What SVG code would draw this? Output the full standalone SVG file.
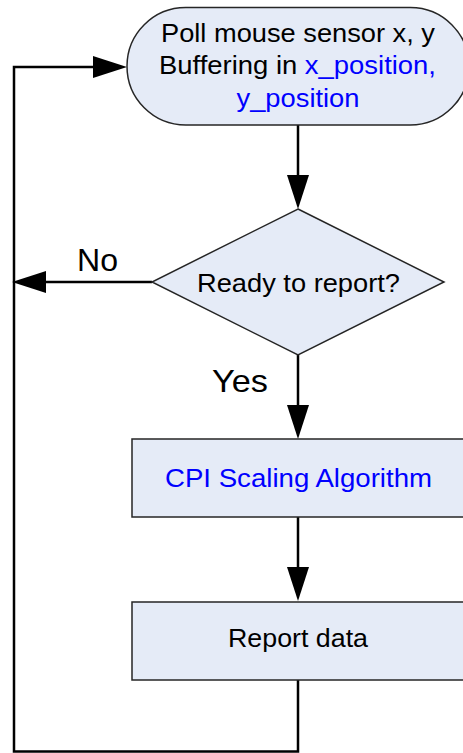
<svg xmlns="http://www.w3.org/2000/svg" width="463" height="753" viewBox="0 0 463 753">
  <defs>
    <marker id="arrow" markerUnits="userSpaceOnUse" markerWidth="34" markerHeight="22" refX="24" refY="11" orient="auto">
      <path d="M0,0 L34,11 L0,22 Z" fill="#000"/>
    </marker>
    <style>
      .shape { fill: #e5ebf7; stroke: #262626; stroke-width: 1.5; }
      .label { font-family: "Liberation Sans", Arial, sans-serif; font-size: 25.5px; fill: #000; text-anchor: middle; }
      .big { font-size: 32px; }
      .blue { fill: #0000ff; }
      .wire { fill: none; stroke: #000; stroke-width: 2.5; stroke-linejoin: miter; }
    </style>
  </defs>

  <rect width="463" height="753" fill="#fff"/>

  <!-- flow lines -->
  <g id="connectors">
    <path class="wire" d="M298,680 V751.5 H14 V67 H117" marker-end="url(#arrow)"/>
    <path class="wire" d="M298,125 V199" marker-end="url(#arrow)"/>
    <path class="wire" d="M152,282 H22" marker-end="url(#arrow)"/>
    <path class="wire" d="M298,355 V429" marker-end="url(#arrow)"/>
    <path class="wire" d="M298,517 V591" marker-end="url(#arrow)"/>
    <text class="label big" x="97.5" y="271" textLength="41" lengthAdjust="spacingAndGlyphs">No</text>
    <text class="label big" x="240" y="392" textLength="56" lengthAdjust="spacingAndGlyphs">Yes</text>
  </g>

  <!-- start: read sensor -->
  <g id="poll">
    <rect class="shape" x="127" y="7.5" width="342" height="117.5" rx="58.75" ry="58.75"/>
    <text class="label" x="298" y="41.5" textLength="274" lengthAdjust="spacingAndGlyphs">Poll mouse sensor x, y</text>
    <text class="label" x="297.5" y="74" textLength="277" lengthAdjust="spacingAndGlyphs">Buffering in <tspan class="blue">x_position,</tspan></text>
    <text class="label blue" x="298" y="106.5" textLength="123" lengthAdjust="spacingAndGlyphs">y_position</text>
  </g>

  <!-- decision -->
  <g id="ready">
    <polygon class="shape" points="298,209 444,282 298,355 152,282"/>
    <text class="label" x="298.5" y="292" textLength="203" lengthAdjust="spacingAndGlyphs">Ready to report?</text>
  </g>

  <!-- scaling step -->
  <g id="cpi">
    <rect class="shape" x="132" y="439" width="332" height="78"/>
    <text class="label blue" x="298.5" y="486.5" textLength="267" lengthAdjust="spacingAndGlyphs">CPI Scaling Algorithm</text>
  </g>

  <!-- output step -->
  <g id="report">
    <rect class="shape" x="132" y="602" width="332" height="78"/>
    <text class="label" x="298" y="647" textLength="140" lengthAdjust="spacingAndGlyphs">Report data</text>
  </g>
</svg>
